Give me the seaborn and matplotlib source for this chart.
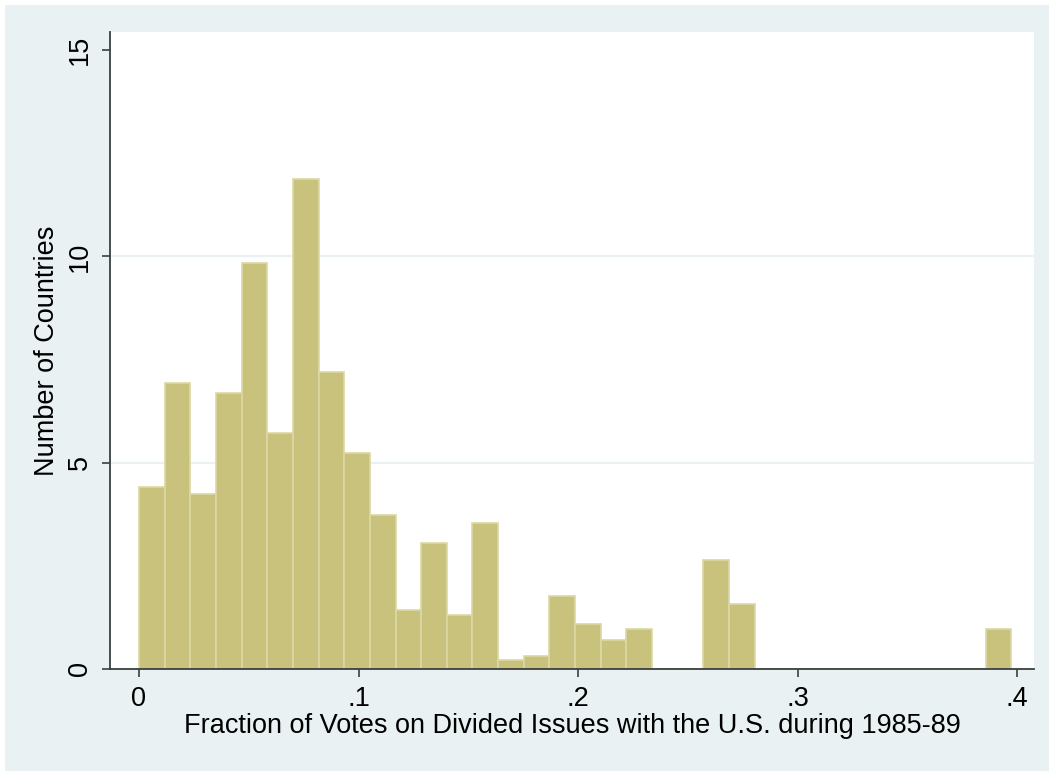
import numpy as np
import pandas as pd
import matplotlib
matplotlib.use("Agg")
import matplotlib.pyplot as plt
import seaborn as sns
from matplotlib.patches import Rectangle

# ---- data ----
bin_start = 0.0
bin_end = 0.3973
n_bins = 34
heights = [4.42, 6.94, 4.24, 6.70, 9.85, 5.73, 11.87, 7.19, 5.23, 3.74,
           1.44, 3.06, 1.31, 3.55, 0.22, 0.31, 1.78, 1.09, 0.70, 0.97,
           0.0, 0.0, 2.65, 1.57, 0.0, 0.0, 0.0, 0.0, 0.0, 0.0,
           0.0, 0.0, 0.0, 0.97]
x_ticks = [0, 0.1, 0.2, 0.3, 0.4]
x_tick_labels = ["0", ".1", ".2", ".3", ".4"]
y_ticks = [0, 5, 10, 15]
y_tick_labels = ["0", "5", "10", "15"]
x_label = "Fraction of Votes on Divided Issues with the U.S. during 1985-89"
y_label = "Number of Countries"

edges = np.linspace(bin_start, bin_end, n_bins + 1)
centers = (edges[:-1] + edges[1:]) / 2
df = pd.DataFrame({"x": centers, "w": heights})

sns.set_theme(style="white")
plt.rcParams["font.family"] = ["Liberation Sans", "DejaVu Sans"]

BG = "#E9F1F3"
BAR = "#C9C27D"
BAR_EDGE = "#DCD8A4"
FS = 19.5

fig = plt.figure(figsize=(10.49, 7.71), dpi=100, facecolor="white")
fig.patches.append(Rectangle((5 / 1049, 0), 1, 1 - 5 / 771, transform=fig.transFigure,
                             facecolor=BG, edgecolor="none", zorder=-10))
ax = fig.add_axes([110 / 1049, 1 - 669 / 771, (1034 - 110) / 1049, (669 - 32) / 771])
ax.set_facecolor("white")

for g in [5, 10]:
    ax.axhline(g, color=BG, lw=1.6, zorder=0)

sns.histplot(data=df, x="x", weights="w", bins=n_bins, binrange=(bin_start, bin_end),
             ax=ax, color=BAR, edgecolor=BAR_EDGE, linewidth=1.2, alpha=1, zorder=2)

ax.set_xlim(-0.0132, 0.4077)
ax.set_ylim(0, 15.44)

for s in ["top", "right"]:
    ax.spines[s].set_visible(False)
for s in ["left", "bottom"]:
    ax.spines[s].set_visible(True)
    ax.spines[s].set_color("#3a3f3f")
    ax.spines[s].set_linewidth(1.3)
    ax.spines[s].set_zorder(5)

ax.set_xticks(x_ticks)
ax.set_xticklabels(x_tick_labels, fontsize=FS)
ax.set_yticks(y_ticks)
ax.set_yticklabels(y_tick_labels, fontsize=FS, rotation=90, va="center")
ax.tick_params(axis="both", direction="out", length=6, width=1.2, color="#3a3f3f",
               bottom=True, left=True, pad=6, labelcolor="black")

ax.set_xlabel(x_label, fontsize=FS, color="black", labelpad=1)
ax.set_ylabel(y_label, fontsize=FS, color="black", labelpad=5)
ax.grid(False)

fig.savefig("out.png", dpi=100, facecolor=fig.get_facecolor())
